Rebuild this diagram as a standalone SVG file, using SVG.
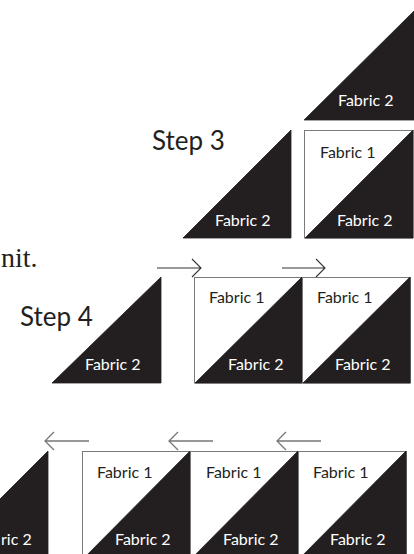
<svg xmlns="http://www.w3.org/2000/svg" width="414" height="554" viewBox="0 0 414 554">
<style>
.dark{fill:#231f20;stroke:#231f20;stroke-width:0.8}
.box{fill:#fff;stroke:#7a7a7a;stroke-width:1}
.lbl{font-family:Lato,"Open Sans",sans-serif;font-size:16px}
.w{fill:#fff}
.k{fill:#231f20}
.step{font-family:Lato,"Open Sans",sans-serif;font-size:26px;fill:#231f20}
.arr4{fill:none;stroke:#333;stroke-width:1.1}
.arr5{fill:none;stroke:#777;stroke-width:1.3}
</style>
<rect width="414" height="554" fill="#fff"/>
<text x="1" y="267" font-family="'Liberation Serif',serif" font-size="28" fill="#231f20">nit.</text>

<g id="step3-label"><text class="step" x="152" y="150">Step 3</text></g>
<g id="step4-label"><text class="step" x="20" y="326">Step 4</text></g>

<g id="s3-top-triangle">
<polygon class="dark" points="304,120 414,11 414,120"/>
<text class="lbl w" x="338" y="106">Fabric 2</text>
</g>
<g id="s3-left-triangle">
<polygon class="dark" points="183,238 291,130 291,238"/>
<text class="lbl w" x="215" y="226">Fabric 2</text>
</g>
<g id="s3-square">
<rect class="box" x="304.5" y="130.5" width="108.5" height="107.5"/>
<polygon class="dark" points="305,238 413,130 413,238"/>
<text class="lbl k" x="320" y="158">Fabric 1</text>
<text class="lbl w" x="337" y="226">Fabric 2</text>
</g>

<g id="s4-triangle">
<polygon class="dark" points="52,383 161,277 161,383"/>
<text class="lbl w" x="85" y="370">Fabric 2</text>
</g>
<g id="s4-square1">
<rect class="box" x="194.5" y="277.5" width="108" height="105.5"/>
<polygon class="dark" points="195,383 302,277 302,383"/>
<text class="lbl k" x="209" y="303">Fabric 1</text>
<text class="lbl w" x="228" y="370">Fabric 2</text>
</g>
<g id="s4-square2">
<rect class="box" x="302.5" y="277.5" width="108" height="105.5"/>
<polygon class="dark" points="303,383 410,277 410,383"/>
<text class="lbl k" x="317" y="303">Fabric 1</text>
<text class="lbl w" x="335" y="370">Fabric 2</text>
</g>

<g id="s5-triangle">
<polygon class="dark" points="-60,559 48,451 48,559"/>
<text class="lbl w" x="1" y="545">ric 2</text>
</g>
<g id="s5-square1">
<rect class="box" x="82.5" y="451.5" width="108" height="108"/>
<polygon class="dark" points="83,559 190,451 190,559"/>
<text class="lbl k" x="97" y="478">Fabric 1</text>
<text class="lbl w" x="115" y="545">Fabric 2</text>
</g>
<g id="s5-square2">
<rect class="box" x="190.5" y="451.5" width="108" height="108"/>
<polygon class="dark" points="191,559 298,451 298,559"/>
<text class="lbl k" x="206" y="478">Fabric 1</text>
<text class="lbl w" x="223" y="545">Fabric 2</text>
</g>
<g id="s5-square3">
<rect class="box" x="298.5" y="451.5" width="108" height="108"/>
<polygon class="dark" points="299,559 406,451 406,559"/>
<text class="lbl k" x="313" y="478">Fabric 1</text>
<text class="lbl w" x="330" y="545">Fabric 2</text>
</g>

<g id="connectors">
<path class="arr4" d="M157,268 H201 M192,259 L201,268 L192,277"/>
<path class="arr4" d="M282,268 H325 M316,259 L325,268 L316,277"/>
<path class="arr5" d="M89,441 H45 M54,432 L45,441 L54,450"/>
<path class="arr5" d="M213,441 H169 M178,432 L169,441 L178,450"/>
<path class="arr5" d="M321,441 H277 M286,432 L277,441 L286,450"/>
</g>
</svg>
